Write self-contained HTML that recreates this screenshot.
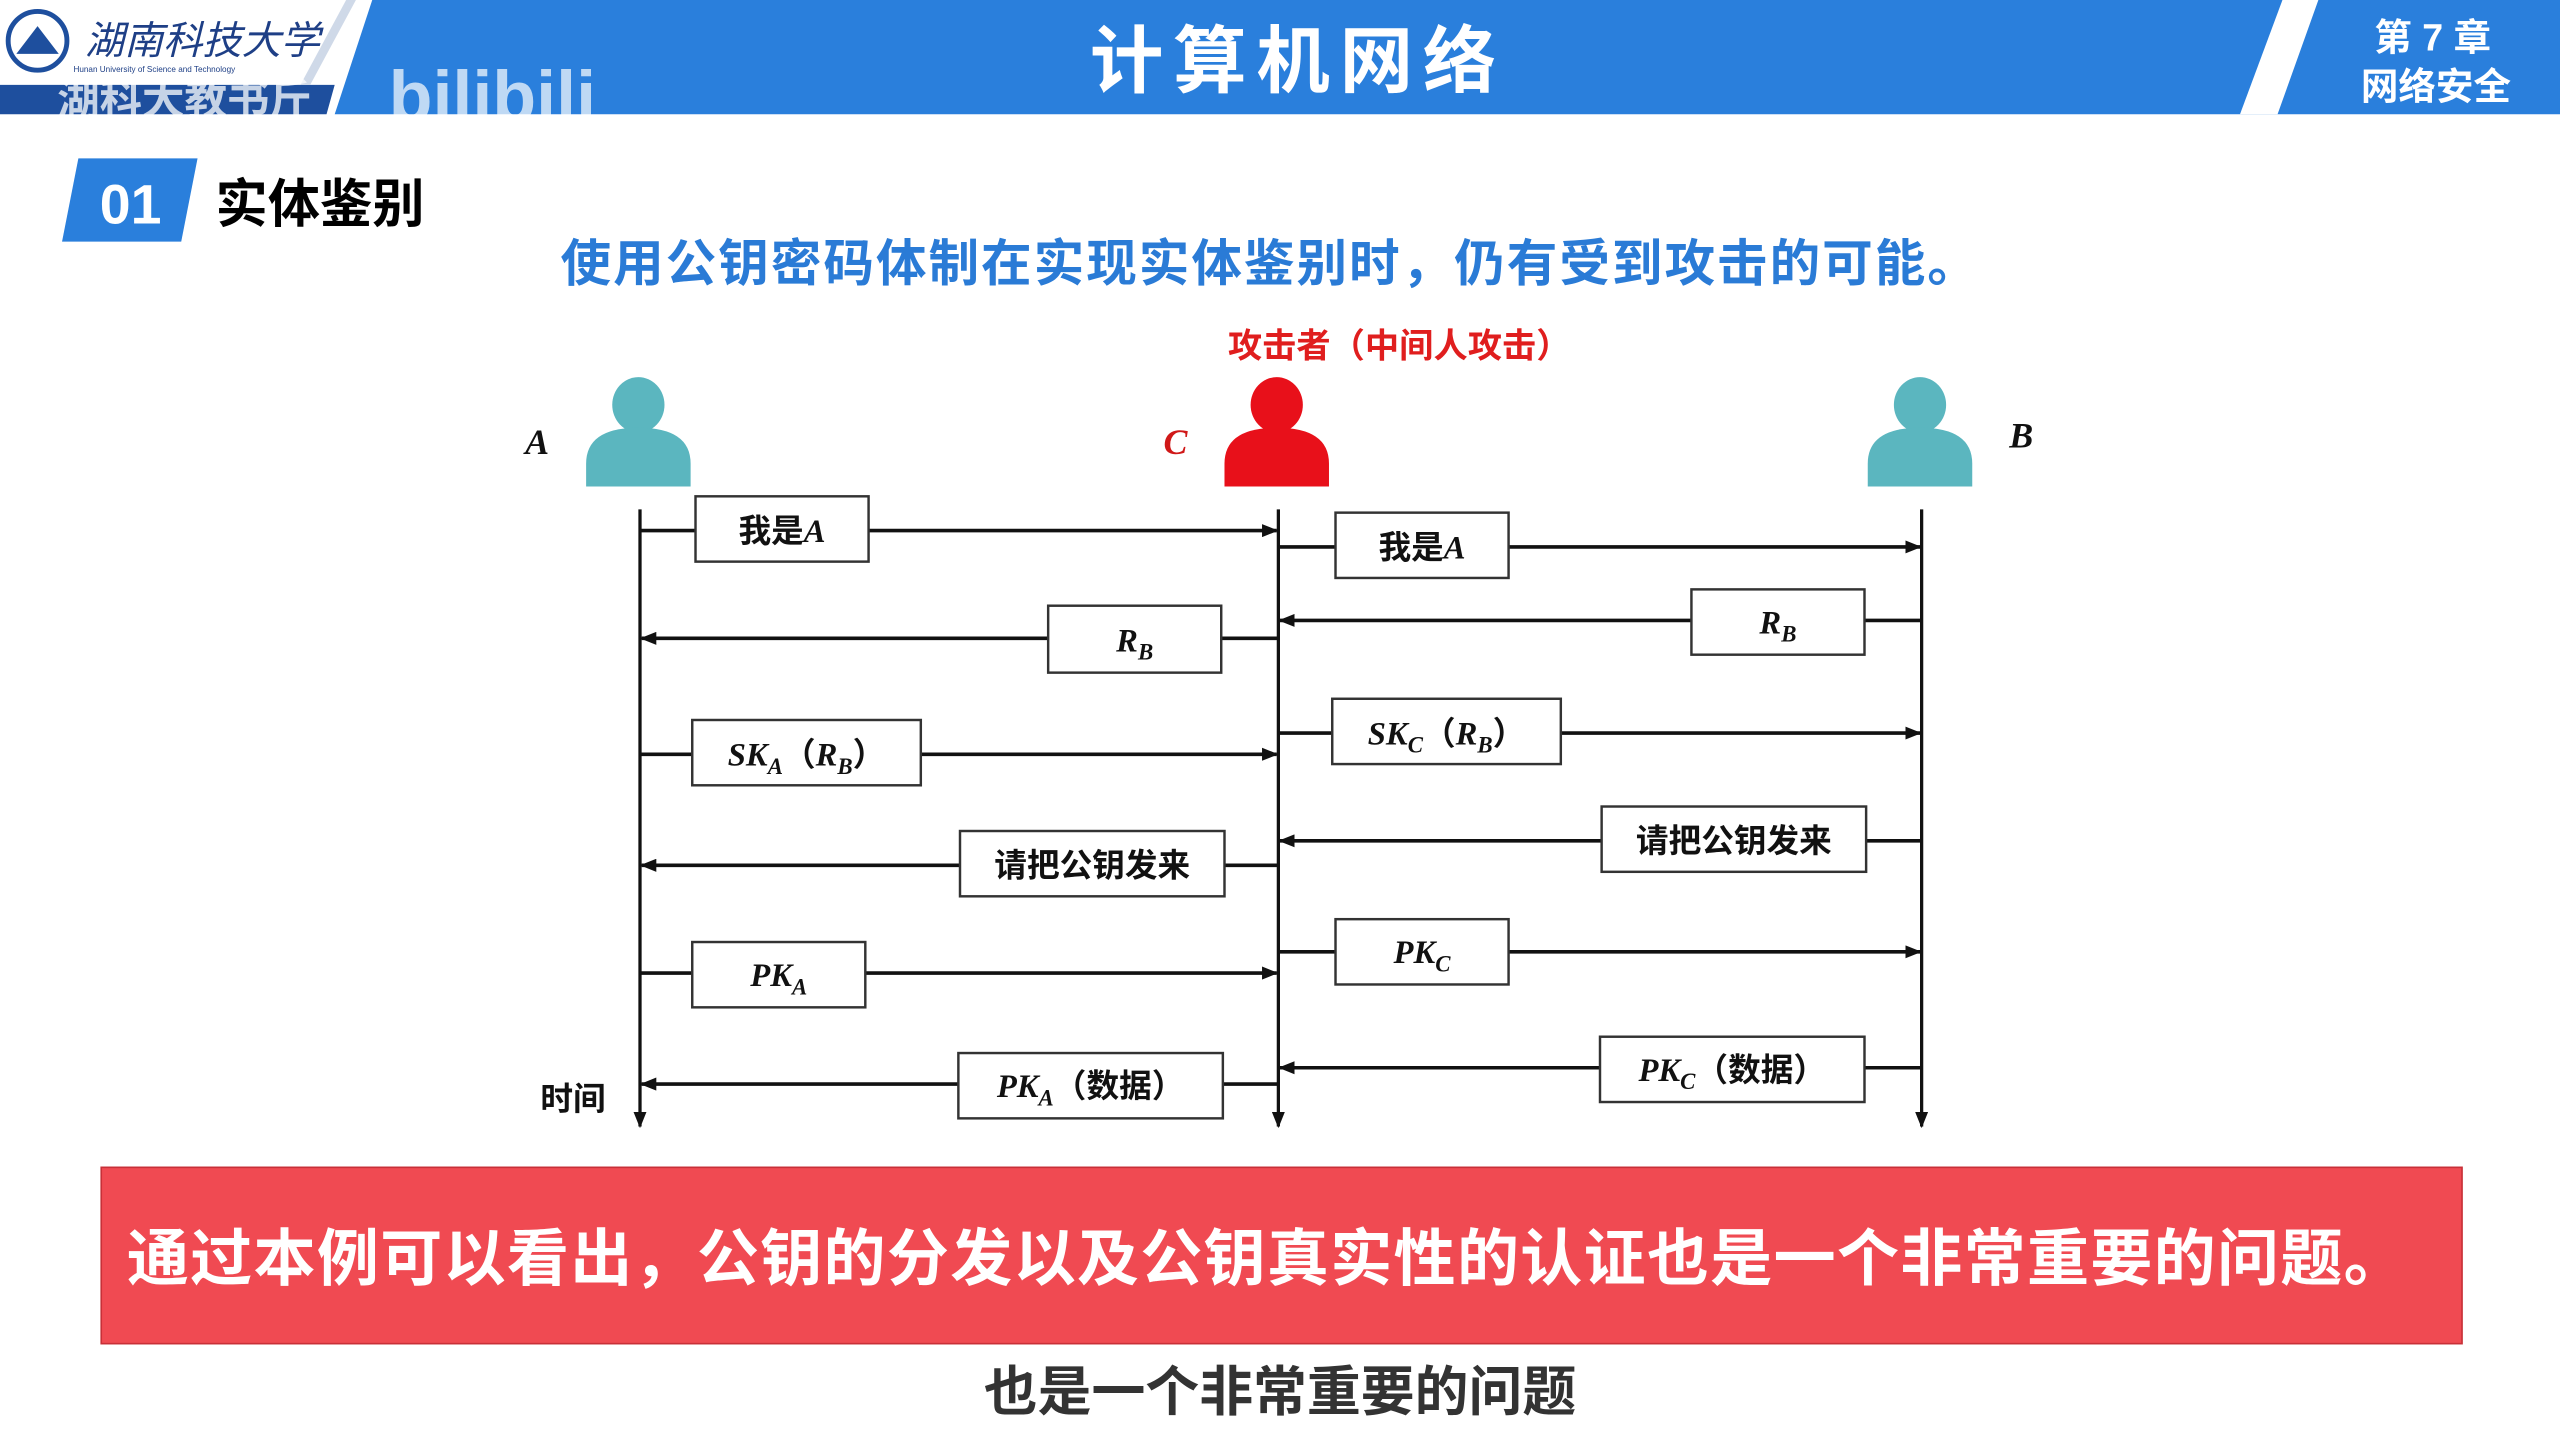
<!DOCTYPE html>
<html><head><meta charset="utf-8"><style>
html,body{margin:0;padding:0;background:#fff;}
svg{display:block;}
text{font-family:"Liberation Sans","Noto Sans CJK SC",sans-serif;}
.it{font-family:"Liberation Serif","Noto Serif CJK SC",serif;font-style:italic;font-weight:bold;}
</style></head><body>
<svg width="2560" height="1439" viewBox="0 0 1568 881.4" preserveAspectRatio="none" xmlns="http://www.w3.org/2000/svg">
<defs>
<marker id="ar" markerWidth="10" markerHeight="8" refX="9" refY="4" orient="auto" markerUnits="userSpaceOnUse">
<path d="M0,0 L10,4 L0,8 z" fill="#111"/></marker>
</defs>
<rect width="1568" height="881.4" fill="#fff"/>
<polygon points="228,0 1568,0 1568,70 205,70" fill="#2a7fdc"/>
<polygon points="1398,0 1420,0 1395,70 1372,70" fill="#fff"/>
<polygon points="0,52 205,52 200,70 0,70" fill="#1e4f9e"/>
<polygon points="212,0 218,0 190,52 184,52" fill="#cfd9e8"/>
<circle cx="23" cy="25" r="18" fill="none" stroke="#1e4f9e" stroke-width="3"/>
<path d="M10,33 L23,16 L36,33 Z" fill="#1e4f9e"/>
<text x="52" y="33" font-size="24" fill="#1e3f86" font-style="italic" font-family="'Noto Serif CJK SC',serif">湖南科技大学</text>
<text x="45" y="44" font-size="5" fill="#1e3f86">Hunan University of Science and Technology</text>
<text x="35" y="70" font-size="26" fill="#fff" opacity="0.75" font-weight="bold">湖科大教书斤</text>
<text x="238" y="74" font-size="44" fill="#fff" opacity="0.7" font-weight="bold">bilibili</text>
<text x="795" y="53" font-size="45" fill="#fff" font-weight="bold" text-anchor="middle" letter-spacing="6">计算机网络</text>
<text x="1490" y="31" font-size="23" fill="#fff" font-weight="bold" text-anchor="middle">第 7 章</text>
<text x="1492" y="61" font-size="23" fill="#fff" font-weight="bold" text-anchor="middle">网络安全</text>
<polygon points="48,97 121,97 111,148 38,148" fill="#2a7fdc"/>
<text x="80" y="137" font-size="34" fill="#fff" font-weight="bold" text-anchor="middle">01</text>
<text x="132" y="136" font-size="32" fill="#000" font-weight="bold">实体鉴别</text>
<text x="778" y="172" font-size="31" fill="#2a7bd6" font-weight="bold" text-anchor="middle" letter-spacing="1.2">使用公钥密码体制在实现实体鉴别时，仍有受到攻击的可能。</text>
<text x="857" y="219" font-size="21" fill="#e01e1e" font-weight="bold" text-anchor="middle">攻击者（中间人攻击）</text>
<g fill="#5bb6bf">
<ellipse cx="391" cy="248" rx="16" ry="17"/>
<path d="M359,298 L359,284 Q359,262 391,262 Q423,262 423,284 L423,298 Z"/>
<ellipse cx="1176" cy="248" rx="16" ry="17"/>
<path d="M1144,298 L1144,284 Q1144,262 1176,262 Q1208,262 1208,284 L1208,298 Z"/>
</g>
<g fill="#e8101a">
<ellipse cx="782" cy="248" rx="16" ry="17"/>
<path d="M750,298 L750,284 Q750,262 782,262 Q814,262 814,284 L814,298 Z"/>
</g>
<text x="329" y="278" font-size="22" class="it" text-anchor="middle" fill="#111">A</text>
<text x="720" y="278" font-size="22" class="it" text-anchor="middle" fill="#d01818">C</text>
<text x="1238" y="274" font-size="22" class="it" text-anchor="middle" fill="#111">B</text>
<g stroke="#111" stroke-width="2" marker-end="url(#ar)">
<line x1="392" y1="312" x2="392" y2="690"/>
<line x1="783" y1="312" x2="783" y2="690"/>
<line x1="1177" y1="312" x2="1177" y2="690"/>
</g>
<g stroke="#111" stroke-width="2.2" marker-end="url(#ar)">
<line x1="392" y1="325" x2="782" y2="325"/>
<line x1="783" y1="335" x2="1176" y2="335"/>
<line x1="1177" y1="380" x2="784" y2="380"/>
<line x1="783" y1="391" x2="393" y2="391"/>
<line x1="392" y1="462" x2="782" y2="462"/>
<line x1="783" y1="449" x2="1176" y2="449"/>
<line x1="1177" y1="515" x2="784" y2="515"/>
<line x1="783" y1="530" x2="393" y2="530"/>
<line x1="392" y1="596" x2="782" y2="596"/>
<line x1="783" y1="583" x2="1176" y2="583"/>
<line x1="1177" y1="654" x2="784" y2="654"/>
<line x1="783" y1="664" x2="393" y2="664"/>
</g>
<g fill="#fff" stroke="#333" stroke-width="1.5">
<rect x="426" y="304" width="106" height="40"/>
<rect x="818" y="314" width="106" height="40"/>
<rect x="1036" y="361" width="106" height="40"/>
<rect x="642" y="371" width="106" height="41"/>
<rect x="424" y="441" width="140" height="40"/>
<rect x="816" y="428" width="140" height="40"/>
<rect x="981" y="494" width="162" height="40"/>
<rect x="588" y="509" width="162" height="40"/>
<rect x="424" y="577" width="106" height="40"/>
<rect x="818" y="563" width="106" height="40"/>
<rect x="980" y="635" width="162" height="40"/>
<rect x="587" y="645" width="162" height="40"/>
</g>
<g font-size="20" fill="#111" font-weight="bold">
<text x="479" y="332" text-anchor="middle">我是<tspan class="it">A</tspan></text>
<text x="871" y="342" text-anchor="middle">我是<tspan class="it">A</tspan></text>
<text x="1089" y="388" text-anchor="middle" class="it">R<tspan font-size="14" dy="5">B</tspan></text>
<text x="695" y="399" text-anchor="middle" class="it">R<tspan font-size="14" dy="5">B</tspan></text>
<text x="494" y="469" text-anchor="middle"><tspan class="it">SK</tspan><tspan class="it" font-size="14" dy="5">A</tspan><tspan dy="-5">（</tspan><tspan class="it">R</tspan><tspan class="it" font-size="14" dy="5">B</tspan><tspan dy="-5">）</tspan></text>
<text x="886" y="456" text-anchor="middle"><tspan class="it">SK</tspan><tspan class="it" font-size="14" dy="5">C</tspan><tspan dy="-5">（</tspan><tspan class="it">R</tspan><tspan class="it" font-size="14" dy="5">B</tspan><tspan dy="-5">）</tspan></text>
<text x="1062" y="522" text-anchor="middle">请把公钥发来</text>
<text x="669" y="537" text-anchor="middle">请把公钥发来</text>
<text x="477" y="604" text-anchor="middle" class="it">PK<tspan font-size="14" dy="5">A</tspan></text>
<text x="871" y="590" text-anchor="middle" class="it">PK<tspan font-size="14" dy="5">C</tspan></text>
<text x="1061" y="662" text-anchor="middle"><tspan class="it">PK</tspan><tspan class="it" font-size="14" dy="5">C</tspan><tspan dy="-5">（数据）</tspan></text>
<text x="668" y="672" text-anchor="middle"><tspan class="it">PK</tspan><tspan class="it" font-size="14" dy="5">A</tspan><tspan dy="-5">（数据）</tspan></text>
<text x="351" y="680" text-anchor="middle">时间</text>
</g>
<rect x="62" y="715" width="1446" height="108" fill="#f04a52" stroke="#c83038" stroke-width="1"/>
<text x="776" y="784" font-size="38" fill="#fff" font-weight="bold" text-anchor="middle" letter-spacing="0.8">通过本例可以看出，公钥的分发以及公钥真实性的认证也是一个非常重要的问题。</text>
<text x="784" y="864" font-size="33" fill="#333" stroke="#fff" stroke-width="1" font-weight="bold" text-anchor="middle" paint-order="stroke">也是一个非常重要的问题</text>
</svg>
</body></html>
